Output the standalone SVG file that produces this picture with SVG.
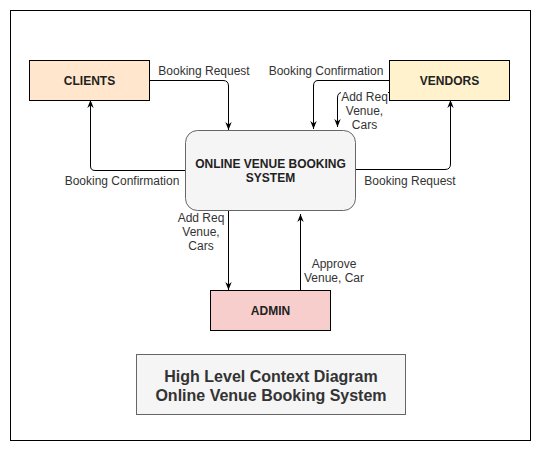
<svg xmlns="http://www.w3.org/2000/svg" width="541" height="451" viewBox="0 0 541 451">
<defs>
<marker id="arr" viewBox="0 0 10 10" markerWidth="8" markerHeight="8" refX="10" refY="5" orient="auto" markerUnits="userSpaceOnUse">
<path d="M0,1 L10,5 L0,9 L3,5 z" fill="#000"/>
</marker>
</defs>
<style>
.lbl{font-family:"Liberation Sans",Arial,sans-serif;font-size:12px;fill:#333;text-anchor:middle;dominant-baseline:central}
.node{font-family:"Liberation Sans",Arial,sans-serif;font-size:12px;font-weight:bold;fill:#222;text-anchor:middle;dominant-baseline:central}
.title{font-family:"Liberation Sans",Arial,sans-serif;font-size:16px;font-weight:bold;fill:#333;text-anchor:middle;dominant-baseline:central}
.edge{fill:none;stroke:#000;stroke-width:1;marker-end:url(#arr)}
</style>
<rect x="0" y="0" width="541" height="451" fill="#fff"/>
<rect x="10.5" y="10.5" width="520" height="430" fill="#fff" stroke="#000" stroke-width="1"/>

<g id="connectors">
<path class="edge" d="M149,80.5 L223,80.5 Q228.5,80.5 228.5,86 L228.5,130"/>
<path class="edge" d="M185,170.5 L95,170.5 Q90.5,170.5 90.5,166 L90.5,100"/>
<path class="edge" d="M389,80.5 L318,80.5 Q313.5,80.5 313.5,86 L313.5,129"/>
<path class="edge" d="M389,92.5 L342,92.5 Q337.5,92.5 337.5,98 L337.5,127"/>
<path class="edge" d="M355,169.5 L445,169.5 Q450.5,169.5 450.5,164 L450.5,100"/>
<path class="edge" d="M228.5,210 L228.5,290"/>
<path class="edge" d="M300.5,290 L300.5,214"/>
</g>

<g id="labels">
<text class="lbl" x="204" y="71">Booking Request</text>
<text class="lbl" x="122" y="181">Booking Confirmation</text>
<text class="lbl" x="326" y="71">Booking Confirmation</text>
<rect x="341" y="89" width="47" height="42" fill="#fff"/>
<text class="lbl" x="364.5" y="97">Add Req</text>
<text class="lbl" x="364.5" y="111">Venue,</text>
<text class="lbl" x="364.5" y="125">Cars</text>
<text class="lbl" x="410" y="181">Booking Request</text>
<text class="lbl" x="201" y="218">Add Req</text>
<text class="lbl" x="201" y="232">Venue,</text>
<text class="lbl" x="201" y="245.5">Cars</text>
<text class="lbl" x="334" y="264">Approve</text>
<text class="lbl" x="334" y="277.5">Venue, Car</text>
</g>

<g id="clients">
<rect x="29.5" y="60.5" width="120" height="40" fill="#ffe6cc" stroke="#000"/>
<text class="node" x="89.5" y="81">CLIENTS</text>
</g>
<g id="vendors">
<rect x="389.5" y="60.5" width="120" height="40" fill="#fff2cc" stroke="#000"/>
<text class="node" x="449.5" y="81">VENDORS</text>
</g>
<g id="system">
<rect x="185.5" y="130.5" width="170" height="80" rx="12" ry="12" fill="#f5f5f5" stroke="#666"/>
<text class="node" x="270.5" y="163.5">ONLINE VENUE BOOKING</text>
<text class="node" x="270.5" y="178">SYSTEM</text>
</g>
<g id="admin">
<rect x="210.5" y="290.5" width="120" height="40" fill="#f8cecc" stroke="#000"/>
<text class="node" x="270.5" y="311">ADMIN</text>
</g>
<g id="title">
<rect x="136.5" y="354.5" width="269" height="60" fill="#f5f5f5" stroke="#666"/>
<text class="title" x="271" y="376">High Level Context Diagram</text>
<text class="title" x="271" y="395">Online Venue Booking System</text>
</g>
</svg>
